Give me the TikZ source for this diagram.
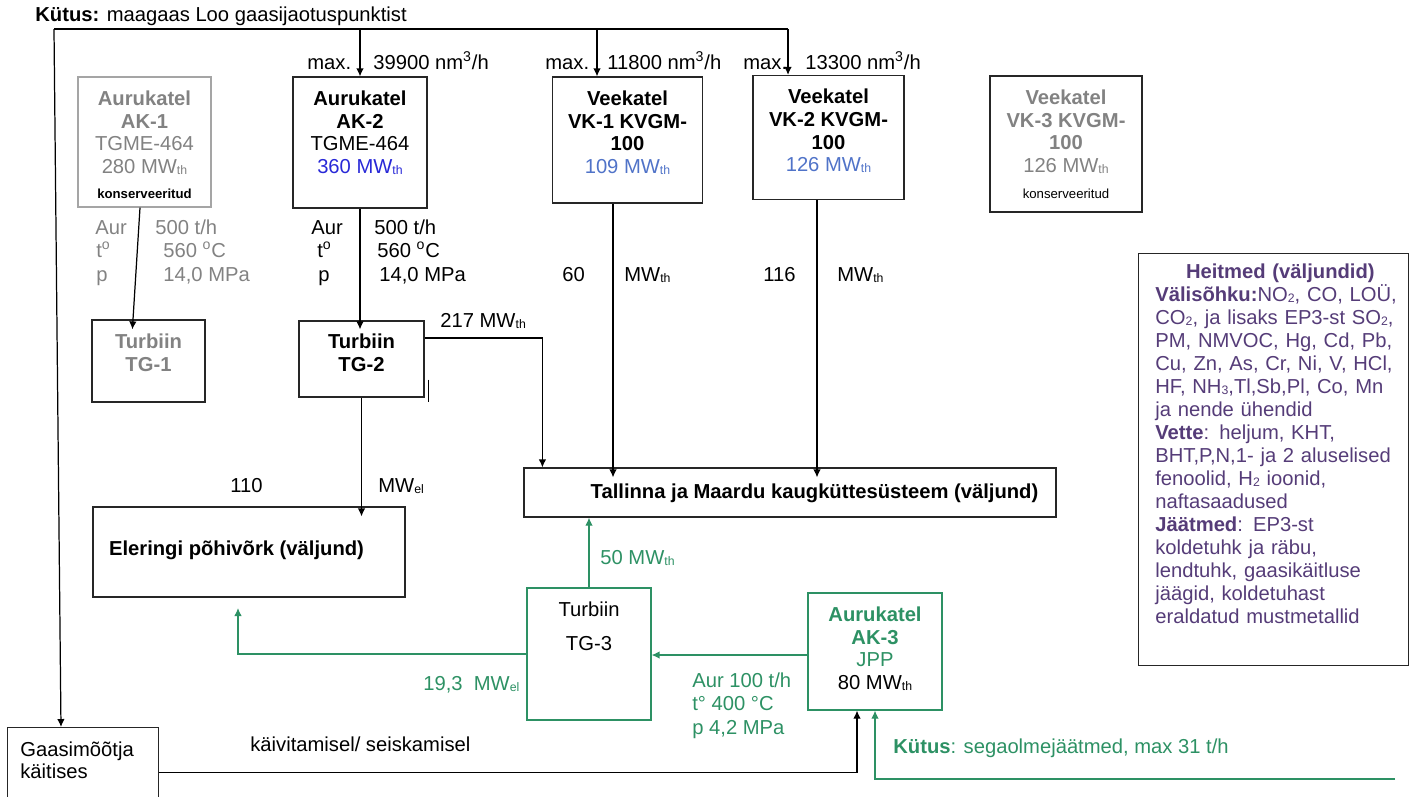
\documentclass[tikz,border=0pt]{standalone}
\usepackage{fontspec}
\setmainfont{Liberation Sans}
\usetikzlibrary{arrows.meta,positioning}

\definecolor{offgray}{RGB}{130,130,130}
\definecolor{offframe}{RGB}{165,165,165}
\definecolor{akblue}{RGB}{40,40,215}
\definecolor{vkblue}{RGB}{80,115,200}
\definecolor{jppgreen}{RGB}{45,145,100}
\definecolor{heitpurple}{RGB}{85,60,120}

\newcommand{\mwsub}[1]{\raisebox{-0.6pt}{\fontsize{7}{7}\selectfont #1}}
\newcommand{\konsfont}{\fontsize{7.5}{9}\selectfont}

\begin{document}
\begin{tikzpicture}[x=0.02cm,y=-0.02cm,>={Latex[length=1.6mm,width=1.5mm]},
  font=\fontsize{11.5}{12.9}\selectfont,
  unit/.style={draw=black!85,line width=0.7pt,inner sep=0pt},
  unittext/.style={inner sep=0pt,align=center},
  param/.style={anchor=base west,inner sep=0pt},
  flow/.style={->,line width=0.7pt},
  greenflow/.style={->,line width=0.7pt,draw=jppgreen}]
\useasboundingbox (0,0) rectangle (1416,796);

% kytus
\node[param] (fuel) at (35,21) {\textbf{Kütus:} maagaas Loo gaasijaotuspunktist};

% katlad
\node[unit,draw=offframe,minimum width=2.66cm,minimum height=2.6cm] (ak1) at (144.5,142) {};
\node[unittext,text=offgray,below=0.28cm of ak1.north] (ak1t) {\textbf{Aurukatel}\\\textbf{AK-1}\\TGME-464\\280 MW\mwsub{th}\\[1.5pt]{\konsfont\bfseries\color{black}konserveeritud}};
\node[unit,minimum width=2.68cm,minimum height=2.62cm] (ak2) at (360,142.5) {};
\node[unittext,below=0.28cm of ak2.north] (ak2t) {\textbf{Aurukatel}\\\textbf{AK-2}\\TGME-464\\\textcolor{akblue}{360 MW\mwsub{th}}};
\node[unit,minimum width=3.0cm,minimum height=2.52cm] (vk1) at (627.5,140) {};
\node[unittext,below=0.28cm of vk1.north] (vk1t) {\textbf{Veekatel}\\\textbf{VK-1 KVGM-}\\\textbf{100}\\\textcolor{vkblue}{109 MW\mwsub{th}}};
\node[unit,minimum width=3.02cm,minimum height=2.48cm] (vk2) at (828.5,137.5) {};
\node[unittext,below=0.28cm of vk2.north] (vk2t) {\textbf{Veekatel}\\\textbf{VK-2 KVGM-}\\\textbf{100}\\\textcolor{vkblue}{126 MW\mwsub{th}}};
\node[unit,minimum width=3.04cm,minimum height=2.72cm] (vk3) at (1066,144) {};
\node[unittext,text=offgray,below=0.28cm of vk3.north] (vk3t) {\textbf{Veekatel}\\\textbf{VK-3 KVGM-}\\\textbf{100}\\126 MW\mwsub{th}\\[2pt]{\konsfont\color{black}konserveeritud}};

% turbiinid
\node[unit,minimum width=2.26cm,minimum height=1.64cm] (tg1) at (148.5,361) {};
\node[unittext,text=offgray,below=0.28cm of tg1.north] (tg1t) {\textbf{Turbiin}\\\textbf{TG-1}};
\node[unit,minimum width=2.5cm,minimum height=1.52cm] (tg2) at (361.5,359) {};
\node[unittext,below=0.26cm of tg2.north] (tg2t) {\textbf{Turbiin}\\\textbf{TG-2}};

% valjundid
\node[unit,minimum width=6.24cm,minimum height=1.8cm] (eler) at (249,552) {};
\node[unittext] (elert) at (236.5,550) {\textbf{Eleringi põhivõrk (väljund)}};
\node[unit,minimum width=10.64cm,minimum height=0.98cm] (tall) at (790,492.5) {};
\node[unittext] (tallt) at (814.5,493) {\textbf{Tallinna ja Maardu kaugküttesüsteem (väljund)}};
\node[unit,anchor=north west,minimum width=3.02cm,minimum height=1.5cm] (gaas) at (7,727) {};
\node[unittext,align=left,anchor=north west] (gaast) at ([xshift=0.26cm,yshift=-0.28cm]gaas.north west) {Gaasimõõtja\\käitises};

% heitmed
\node[unit,anchor=north west,minimum width=5.4cm,minimum height=8.24cm] (heit) at (1138,253) {};
\node[inner sep=0pt,anchor=north west,text width=5.0cm,align=left,text=heitpurple,font=\fontsize{11.5}{13.1}\selectfont] (heitt) at ([xshift=0.34cm,yshift=-0.2cm]heit.north west) {\makebox[\linewidth]{\textbf{Heitmed (väljundid)}}\\
\textbf{Välisõhku:}NO\mwsub{2}, CO, LOÜ,\\
CO\mwsub{2}, ja lisaks EP3-st SO\mwsub{2},\\
PM, NMVOC, Hg, Cd, Pb,\\
Cu, Zn, As, Cr, Ni, V, HCl,\\
HF, NH\mwsub{3},Tl,Sb,Pl, Co, Mn\\
ja nende ühendid\\
\textbf{Vette}: heljum, KHT,\\
BHT,P,N,1- ja 2 aluselised\\
fenoolid, H\mwsub{2} ioonid,\\
naftasaadused\\
\textbf{Jäätmed}: EP3-st\\
koldetuhk ja räbu,\\
lendtuhk, gaasikäitluse\\
jäägid, koldetuhast\\
eraldatud mustmetallid};

% JPP plokk
\node[unit,draw=jppgreen,minimum width=2.48cm,minimum height=2.64cm] (tg3) at (589,654) {};
\node[unittext,below=0.28cm of tg3.north] (tg3t) {Turbiin\\[6.5pt]TG-3};
\node[unit,draw=jppgreen,minimum width=2.68cm,minimum height=2.34cm] (ak3) at (875,651.5) {};
\node[unittext,text=jppgreen,below=0.28cm of ak3.north] (ak3t) {\textbf{Aurukatel}\\\textbf{AK-3}\\JPP\\\textcolor{black}{80 MW\mwsub{th}}};

% parameetrid
\node[param] (max1) at (307,69) {max.};
\node[param] (q1) at (373,69) {39900 nm\textsuperscript{3}/h};
\node[param] (max2) at (545,69) {max.};
\node[param] (q2) at (607,69) {11800 nm\textsuperscript{3}/h};
\node[param] (max3) at (743,69) {max.};
\node[param] (q3) at (805,69) {13300 nm\textsuperscript{3}/h};
\node[param,text=offgray] (ak1aur) at (95,234) {Aur};
\node[param,text=offgray] (ak1m) at (155,234) {500 t/h};
\node[param,text=offgray] (ak1tt) at (96,257) {t\textsuperscript{o}};
\node[param,text=offgray] (ak1tv) at (163,257) {560 \textsuperscript{o}C};
\node[param,text=offgray] (ak1p) at (96,281) {p};
\node[param,text=offgray] (ak1pv) at (163,281) {14,0 MPa};
\node[param] (ak2aur) at (311,234) {Aur};
\node[param] (ak2m) at (374,234) {500 t/h};
\node[param] (ak2tt) at (317,257) {t\textsuperscript{o}};
\node[param] (ak2tv) at (377,257) {560 \textsuperscript{o}C};
\node[param] (ak2p) at (318,281) {p};
\node[param] (ak2pv) at (379,281) {14,0 MPa};
\node[param] (vk1a) at (562,281) {60};
\node[param] (vk1b) at (624,281) {MW\mwsub{th}};
\node[param] (vk2a) at (763,281) {116};
\node[param] (vk2b) at (837,281) {MW\mwsub{th}};
\node[param] (tg2th) at (440,327) {217 MW\mwsub{th}};
\node[param] (tg2ela) at (230,492) {110};
\node[param] (tg2elb) at (378,492) {MW\mwsub{el}};
\node[param,text=jppgreen] (tg3th) at (600,564) {50 MW\mwsub{th}};
\node[param,text=jppgreen] (tg3el) at (423,690) {19,3\ \ MW\mwsub{el}};
\node[param,text=jppgreen] (ak3aur) at (692,687) {Aur 100 t/h};
\node[param,text=jppgreen] (ak3tv) at (692,710) {t° 400 °C};
\node[param,text=jppgreen] (ak3p) at (692,734) {p 4,2 MPa};
\node[param] (start) at (250,751) {käivitamisel/ seiskamisel};
\node[param,text=jppgreen] (waste) at (893,753) {\textbf{Kütus}: segaolmejäätmed, max 31 t/h};

% gaasitoru
\coordinate (fuelw) at (54,29);
\coordinate (fuele) at (788,29);
\coordinate (tap1) at (597,29);
\draw[line width=0.7pt] (fuelw) -- (fuele);
\draw[flow] (fuelw) -- ([xshift=1.08cm]gaas.north west);
\draw[flow] (ak2.north |- fuelw) -- (ak2.north);
\draw[flow] (tap1) -- (tap1 |- vk1.north);
\draw[flow] (fuele) -- (fuele |- vk2.north);

% aur ja soojus
\coordinate (vk1out) at ([xshift=-0.29cm]vk1.south);
\coordinate (vk2out) at ([xshift=-0.23cm]vk2.south);
\draw[flow,shorten >=-0.2cm] ([xshift=-0.09cm]ak1.south) -- ([xshift=-0.31cm]tg1.north);
\draw[flow,shorten >=-0.18cm] (ak2.south) -- (ak2.south |- tg2.north);
\draw[flow] ([yshift=0.42cm]tg2.east) -| ([xshift=0.38cm]tall.north west);
\draw[line width=0.7pt] ([xshift=0.08cm,yshift=0.36cm]tg2.south east) -- ++(0,22);
\draw[flow,shorten >=-0.2cm] (tg2.south) -- (tg2.south |- eler.north);
\draw[flow,shorten >=-0.2cm] (vk1out) -- (vk1out |- tall.north);
\draw[flow,shorten >=-0.2cm] (vk2out) -- (vk2out |- tall.north);

% JPP vood
\coordinate (elin) at (238,608);
\coordinate (wastein) at (1395,779);
\coordinate (steam) at ([yshift=-0.07cm]ak3.west);
\coordinate (gaasout) at ([yshift=0.62cm]gaas.south east);
\draw[greenflow] (tg3.north) -- (tg3.north |- tall.south);
\draw[greenflow] (tg3.west) -| (elin);
\draw[greenflow] (steam) -- (steam -| tg3.east);
\draw[flow] (gaasout) -| ([xshift=-0.36cm]ak3.south);
\draw[greenflow] (wastein) -| (ak3.south);
\end{tikzpicture}
\end{document}
